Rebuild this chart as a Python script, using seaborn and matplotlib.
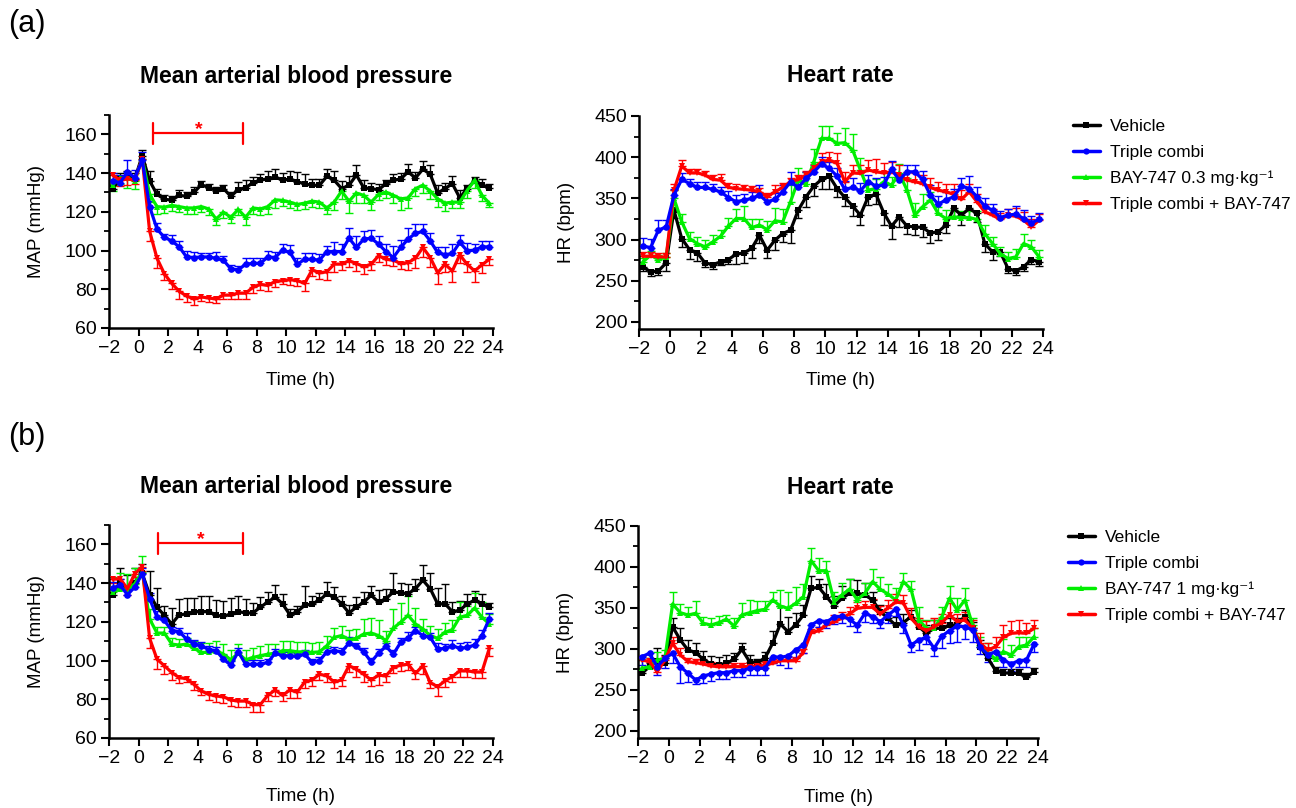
import numpy as np
import pandas as pd
import matplotlib
matplotlib.use("Agg")
import matplotlib.pyplot as plt
import seaborn as sns
from matplotlib.ticker import MultipleLocator, AutoMinorLocator
from matplotlib.lines import Line2D

# ---------------- data ----------------
TIME = [-1.75, -1.25, -0.75, -0.25, 0.25, 0.75, 1.25, 1.75, 2.25, 2.75, 3.25, 3.75, 4.25,
        4.75, 5.25, 5.75, 6.25, 6.75, 7.25, 7.75, 8.25, 8.75, 9.25, 9.75, 10.25, 10.75,
        11.25, 11.75, 12.25, 12.75, 13.25, 13.75, 14.25, 14.75, 15.25, 15.75, 16.25, 16.75,
        17.25, 17.75, 18.25, 18.75, 19.25, 19.75, 20.25, 20.75, 21.25, 21.75, 22.25, 22.75,
        23.25, 23.75]

GROUPS = ["Vehicle", "Triple combi", "BAY-747", "Triple combi + BAY-747"]
LEGEND_A = ["Vehicle", "Triple combi", "BAY-747 0.3 mg·kg⁻¹", "Triple combi + BAY-747"]
LEGEND_B = ["Vehicle", "Triple combi", "BAY-747 1 mg·kg⁻¹", "Triple combi + BAY-747"]

# (a) Mean arterial blood pressure (mmHg)
A_MAP_VEH = [132, 137, 138, 137, 149, 136, 129, 126.5, 126, 128.5, 128, 130, 134, 132.5, 131, 132,
             128, 131.5, 132.5, 135, 136.5, 137, 138, 136.3, 137, 135.5, 134.5, 133.7, 133.7, 138.3,
             136.3, 132, 133.7, 139, 132.4, 132, 131.4, 134.5, 136.3, 137, 140.6, 137.5, 142, 139.4,
             129.7, 132, 134.5, 127.2, 132, 136, 133.7, 132.4]
A_MAP_TRI = [136, 135, 140.6, 137.6, 146.7, 122.7, 111.1, 106.8, 105, 101.9, 96.7, 96.4, 96.7, 96.7,
             96, 95, 90.5, 90, 92.9, 93.4, 93.4, 96.7, 96.4, 100.2, 99, 92.9, 95.5, 95.5, 95, 99.5,
             99.5, 99.5, 106.4, 101.6, 105.9, 106.4, 103.3, 99.5, 96.4, 101.6, 105.9, 108.9, 109.9,
             105, 99, 97.8, 98.5, 104.2, 99.9, 100.2, 101.9, 101.9]
A_MAP_BAY = [134, 137.5, 137.5, 136, 147.5, 129, 122.7, 122.4, 123.3, 122.7, 122, 122, 122.7, 121.5,
             116.3, 119.8, 117.2, 121.2, 117.2, 122, 121.5, 122.7, 126.2, 125.9, 125, 123.8, 124.5,
             125.5, 125, 122, 125, 130.7, 125.5, 129.7, 128.5, 125, 129, 130.2, 128.5, 126.7, 127.2,
             132, 133.7, 130.7, 126.7, 124.5, 125, 125, 131, 136.3, 128.5, 124.5]
A_MAP_TB = [139, 136.3, 137, 136.3, 147.5, 110, 96, 88, 83, 79, 76.5, 75, 76, 75.5, 75, 77, 77, 78,
            78, 81, 82.5, 82, 84, 84.5, 85, 84.5, 83, 90, 88.5, 89, 93, 93, 94.7, 93.3, 91.7, 92.9,
            97.3, 95.5, 95, 93.3, 93.8, 96, 101.6, 96.4, 88.6, 92.9, 89.5, 97.8, 92.9, 89.5, 92.6, 95.5]
A_MAP_VEH_ERR = [2, 3, 3, 3, 3, 5, 3, 2, 2, 3, 2, 3, 2, 2, 2, 2, 2, 4, 4, 3, 3, 4, 4, 4, 4, 5, 5, 3,
                 3, 4, 5, 4, 5, 5, 4, 3, 3, 2, 3, 3, 4, 3, 4, 5, 4, 3, 4, 4, 2, 2, 3, 2]
A_MAP_TRI_ERR = [4, 4, 6, 4, 4, 3, 3, 2, 3, 3, 3, 3, 2, 2, 3, 2, 2, 2, 3, 3, 3, 3, 3, 3, 4, 3, 3, 3,
                 3, 3, 5, 4, 5, 6, 4, 4, 4, 4, 6, 4, 6, 5, 4, 4, 3, 4, 5, 4, 4, 3, 3, 3]
A_MAP_BAY_ERR = [3, 3, 5, 4, 3, 4, 4, 3, 3, 3, 3, 3, 3, 3, 3, 3, 3, 3, 4, 3, 3, 4, 4, 3, 3, 3, 3, 3,
                 3, 3, 4, 4, 6, 5, 4, 4, 3, 3, 4, 6, 5, 4, 4, 4, 4, 4, 3, 3, 4, 4, 3, 2]
A_MAP_TB_ERR = [3, 3, 3, 2, 3, 5, 5, 3, 3, 4, 3, 3, 2, 2, 2, 2, 2, 3, 3, 3, 3, 3, 3, 2, 3, 3, 4, 3,
                3, 4, 4, 3, 3, 4, 4, 3, 3, 3, 3, 3, 4, 5, 5, 5, 6, 4, 6, 4, 4, 6, 4, 3]

# (a) Heart rate (bpm)
A_HR_VEH = [266.9, 260.8, 262, 271.7, 335.7, 301.3, 287.9, 283.9, 271.7, 269.7, 272.9, 275.8, 282.3,
            283.9, 289.2, 305.3, 287.2, 299.4, 307.4, 311.4, 335.7, 351.9, 364.9, 373, 377, 362,
            351.1, 340.6, 329.7, 352, 355, 332.5, 316.3, 327.6, 316.3, 315.5, 314.7, 308.2, 309.4,
            317.5, 337.8, 329.7, 337.8, 331.7, 295.2, 285, 285, 264.8, 262, 266.9, 275.8, 272.9]
A_HR_TRI = [292, 290.4, 311.4, 315.5, 354, 373, 368, 363.3, 363.3, 360.9, 358, 351, 345.9, 347.9, 350,
            354, 345.9, 348.7, 358, 370.2, 363.3, 374.2, 382.3, 391.7, 386.4, 377, 360.9, 363.3,
            359.2, 370.2, 364.9, 366.1, 385.2, 372.2, 382.3, 382.3, 373, 354, 343, 348, 352, 364.9,
            362, 352, 340.6, 335.7, 326.8, 329.7, 330.9, 325.6, 320.3, 324.4]
A_HR_BAY = [273, 281, 275.8, 279, 350, 321.6, 301.3, 295.2, 291.2, 297.2, 304.1, 316.3, 325.6, 325.6,
            314.7, 317.5, 312.2, 322.8, 321.6, 345.9, 372.2, 367.3, 394.5, 422.8, 422.8, 416.8, 417.6,
            408.7, 384.4, 360, 362, 370.2, 366.1, 380.3, 360, 329.7, 339.8, 347.9, 331.7, 325.6,
            327.6, 326.8, 326.8, 324.4, 307.4, 295.2, 283, 277, 279, 295.2, 291.2, 279]
A_HR_TB = [279.8, 279.8, 279, 279, 360, 389.2, 381, 381, 378.3, 373, 372.2, 363.3, 362, 360.9, 360,
           358, 352, 358, 363.3, 370.3, 373, 378.3, 386.4, 394.5, 396.5, 392.5, 370.2, 381, 380.3,
           384.4, 382.3, 381, 382.3, 378.3, 372.2, 370.3, 368, 363.3, 360, 358, 355, 348.7, 358,
           345.9, 333.7, 329.7, 324.4, 329.7, 328.4, 323.6, 315.5, 323.6]
A_HR_VEH_ERR = [5, 5, 5, 10, 10, 10, 12, 10, 5, 5, 4, 5, 12, 12, 12, 10, 10, 12, 10, 15, 10, 12, 12,
                12, 15, 10, 10, 12, 12, 10, 12, 15, 15, 12, 10, 10, 12, 12, 10, 10, 10, 12, 12, 10,
                10, 10, 5, 5, 5, 5, 5, 5]
A_HR_TRI_ERR = [10, 10, 12, 8, 8, 8, 6, 6, 6, 6, 6, 8, 8, 8, 8, 12, 8, 8, 8, 12, 8, 8, 8, 8, 8, 10,
                10, 12, 10, 8, 10, 10, 10, 8, 8, 8, 10, 12, 10, 10, 10, 10, 15, 12, 10, 8, 8, 8, 10,
                10, 8, 8]
A_HR_BAY_ERR = [5, 5, 5, 5, 10, 10, 8, 8, 8, 8, 8, 10, 12, 15, 10, 8, 10, 15, 15, 20, 15, 15, 15, 15,
                15, 12, 18, 20, 15, 10, 12, 12, 10, 12, 15, 15, 15, 10, 8, 10, 8, 8, 8, 10, 10, 8, 8,
                8, 10, 12, 8, 8]
A_HR_TB_ERR = [5, 5, 5, 5, 8, 8, 5, 5, 5, 5, 8, 5, 5, 5, 5, 5, 5, 8, 5, 5, 5, 5, 5, 10, 10, 12, 12,
               10, 10, 12, 15, 12, 12, 12, 10, 10, 10, 12, 10, 10, 12, 12, 10, 10, 10, 8, 8, 8, 10,
               10, 10, 8]

# (b) Mean arterial blood pressure (mmHg)
B_MAP_VEH = [134, 140, 137, 140, 145, 134, 127.6, 123.3, 118.9, 123.6, 124.1, 125.3, 125.3, 125.3,
             123.3, 122.9, 124.1, 125.3, 124.6, 124.6, 127.6, 130.2, 132.8, 129.3, 123.6, 125.3,
             128.5, 129.3, 131.1, 134.5, 132.8, 129.3, 124.6, 127.6, 130.2, 133.7, 130.2, 131.9,
             135.4, 135, 134.5, 137.1, 141.5, 137.1, 129.3, 129.3, 125.3, 125.9, 129.3, 131.1,
             129.3, 127.6]
B_MAP_TRI = [137.5, 138.9, 134, 138, 144.9, 131.9, 122.4, 120.7, 115.5, 114.9, 111.1, 108.5, 107.7,
             105.6, 105.1, 100.7, 97.6, 104.5, 98.1, 98.1, 98.1, 99, 103.8, 102.5, 102.5, 102.1,
             103.3, 99, 99.9, 104.5, 105.1, 104.5, 109, 107.3, 104.5, 99.3, 103.8, 107.3, 103.3,
             109.4, 111.5, 115.5, 112.9, 112, 105.9, 106.3, 107.7, 106.3, 106.8, 108, 112.9, 121.5]
B_MAP_BAY = [135.4, 137.1, 136.8, 139.7, 145.8, 121.5, 114.2, 114.2, 108.5, 108, 108.5, 106.3, 104.2,
             104.2, 105.1, 103.3, 100.4, 103.8, 100.4, 101.6, 102.5, 103.3, 103.8, 105.1, 105.1,
             104.5, 104.5, 104.2, 104.5, 107.7, 112, 112.9, 110.8, 111.5, 113.7, 114.2, 112.9, 110.3,
             116.7, 119.8, 123.3, 118.9, 116.3, 112.9, 111.5, 114.6, 116, 122.4, 123.3, 127.1, 122.4,
             118.9]
B_MAP_TB = [142, 142.3, 137.1, 144.9, 148.4, 111.5, 100.7, 97.3, 93.8, 91.2, 90.7, 87.7, 84.3, 82.5,
            81.7, 81.3, 79.6, 79.1, 79.1, 77.3, 77.3, 82, 84.8, 82, 84.8, 83.7, 88.9, 90, 92.9, 92.1,
            88.9, 90, 97.3, 95.5, 92.9, 90, 92.4, 92.1, 96.4, 97.6, 98.1, 93.4, 97.3, 88.6, 86.5,
            89.5, 91.7, 94.7, 94.7, 94.1, 94.1, 106.3]
B_MAP_VEH_ERR = [3, 8, 7, 8, 5, 12, 10, 5, 8, 8, 8, 7, 8, 8, 8, 8, 8, 8, 7, 5, 5, 5, 6, 5, 3, 3, 10,
                 4, 4, 6, 5, 4, 4, 5, 5, 5, 6, 5, 10, 5, 5, 5, 8, 8, 8, 10, 5, 5, 5, 5, 5, 2]
B_MAP_TRI_ERR = [3, 3, 3, 3, 3, 3, 3, 2, 2, 2, 3, 2, 2, 2, 2, 2, 2, 2, 2, 2, 2, 2, 2, 2, 2, 2, 2, 2,
                 2, 2, 2, 2, 3, 2, 2, 2, 2, 2, 2, 2, 3, 2, 3, 2, 3, 2, 3, 3, 3, 3, 3, 3]
B_MAP_BAY_ERR = [8, 8, 8, 8, 8, 5, 3, 3, 3, 3, 3, 4, 5, 5, 5, 5, 5, 5, 5, 5, 5, 5, 5, 5, 5, 5, 5, 5,
                 5, 5, 5, 5, 5, 5, 8, 8, 8, 5, 10, 10, 10, 8, 5, 5, 5, 5, 5, 8, 5, 8, 8, 5]
B_MAP_TB_ERR = [2, 2, 3, 2, 2, 5, 5, 4, 4, 3, 2, 3, 2, 3, 3, 3, 3, 3, 3, 4, 4, 3, 3, 3, 4, 3, 3, 3,
                3, 3, 3, 3, 3, 4, 4, 3, 5, 3, 3, 3, 3, 3, 4, 3, 5, 3, 3, 3, 3, 3, 3, 4]

# (b) Heart rate (bpm)
B_HR_VEH = [270, 278.2, 285.5, 282.2, 327, 310.7, 298.5, 295.3, 287.1, 281.4, 280.2, 282.2, 287.1,
            299.3, 284.3, 283.1, 288.4, 306.7, 330.3, 320.9, 329, 341.3, 373.9, 375.1, 363.7, 352.3,
            361.6, 367.8, 367.8, 365.7, 359.6, 345.4, 337.2, 329, 332, 339.3, 327, 318.9, 325, 325,
            329, 329, 339.3, 325, 302.6, 288.4, 273.3, 270.8, 270, 270, 265.1, 272.1]
B_HR_TRI = [290.4, 294.5, 278.2, 288.4, 294.5, 278.2, 270, 261.9, 266.8, 269.2, 270.8, 270.8, 273.3,
            273.3, 276.1, 276.1, 276.1, 290.4, 289.6, 291.2, 298.5, 304.6, 329, 334.4, 333.1, 338.4,
            340, 335.9, 329, 343.3, 339.3, 333.1, 341.3, 348.2, 329, 304.6, 310.7, 314, 300.6, 315.6,
            322.1, 327.9, 327, 323, 301.8, 292.4, 296.5, 286.3, 281.4, 285.5, 286.3, 305.9]
B_HR_BAY = [276, 278.2, 286.3, 288.4, 354.7, 344.1, 341.3, 343.3, 331.1, 329, 332, 336, 327.9, 341.3,
            344.1, 346.6, 348.2, 359.6, 352.3, 349.4, 355.5, 363.7, 407.7, 395.4, 395.4, 357.6,
            365.7, 372.9, 360, 367.8, 382, 372.6, 366.9, 359.6, 382, 372.6, 335.5, 325, 325, 339.3,
            361.6, 347.4, 359.6, 329, 304.6, 295.3, 287.1, 296.5, 292.4, 302.6, 304.6, 314.8]
B_HR_TB = [286.3, 284.3, 272.1, 286.3, 306.7, 292.4, 284.3, 283.1, 281.4, 279, 278.2, 278.2, 278.2,
           278.2, 278.2, 279, 280.2, 282.2, 285.5, 285.5, 285.5, 295.3, 319.7, 322.1, 329, 333.1,
           337.2, 342.5, 349.4, 350.6, 350.6, 342.5, 350, 357, 356, 337.3, 327, 322, 327, 332,
           341.3, 333.1, 335.2, 325, 306.7, 298.5, 302.6, 314, 318.9, 319.7, 318.9, 325]
B_HR_VEH_ERR = [5, 5, 15, 10, 10, 15, 12, 12, 10, 10, 10, 10, 8, 8, 8, 5, 8, 15, 22, 18, 15, 12, 15,
                10, 15, 12, 15, 18, 16, 15, 10, 8, 8, 10, 10, 8, 8, 10, 10, 8, 8, 8, 8, 8, 8, 8, 5,
                5, 5, 5, 5, 5]
B_HR_TRI_ERR = [10, 10, 10, 12, 12, 20, 10, 5, 8, 8, 8, 8, 8, 8, 8, 8, 8, 8, 10, 15, 10, 10, 8, 8, 8,
                8, 8, 8, 8, 10, 8, 8, 10, 8, 10, 8, 12, 8, 10, 15, 15, 20, 15, 15, 8, 8, 8, 8, 8, 8,
                8, 10]
B_HR_BAY_ERR = [10, 10, 10, 10, 15, 10, 10, 15, 8, 8, 8, 5, 10, 15, 15, 12, 10, 10, 20, 20, 20, 15,
                15, 15, 12, 12, 15, 12, 8, 12, 15, 15, 12, 15, 10, 10, 15, 10, 10, 12, 15, 15, 15, 8,
                10, 12, 10, 15, 12, 12, 10, 10]
B_HR_TB_ERR = [5, 5, 5, 5, 8, 8, 5, 5, 5, 5, 5, 5, 5, 5, 5, 5, 5, 5, 5, 5, 5, 5, 5, 5, 5, 8, 8, 8, 8,
               8, 10, 10, 10, 10, 10, 12, 10, 12, 10, 10, 15, 10, 10, 10, 12, 8, 12, 15, 15, 15, 12, 10]

# significance brackets (time range, level)
SIG_A = (1.0, 7.1, 160.5)
SIG_B = (1.3, 7.1, 160.5)

# ---------------- style ----------------
COLORS = {"Vehicle": "#000000", "Triple combi": "#0000FF", "BAY-747": "#00EE00",
          "Triple combi + BAY-747": "#FF0000"}
MARKERS = {"Vehicle": "s", "Triple combi": "o", "BAY-747": "^", "Triple combi + BAY-747": "v"}
DRAW_ORDER = ["Vehicle", "BAY-747", "Triple combi + BAY-747", "Triple combi"]

sns.set_theme(style="ticks", rc={
    "axes.edgecolor": "black", "axes.labelcolor": "black", "text.color": "black",
    "xtick.color": "black", "ytick.color": "black", "axes.linewidth": 1.6,
})
plt.rcParams["font.family"] = ["Liberation Sans", "DejaVu Sans"]
plt.rcParams["axes.unicode_minus"] = True

W, H = 1296, 808
fig = plt.figure(figsize=(W / 100, H / 100), dpi=100)


def add_ax(l, t, r, b):
    return fig.add_axes([l / W, 1 - b / H, (r - l) / W, (b - t) / H])


def style_ax(ax, ylim, major, ylabel, ylab_x, xlab_y):
    ax.set_xlim(-2, 24)
    ax.set_ylim(*ylim)
    ax.xaxis.set_major_locator(MultipleLocator(2))
    ax.yaxis.set_major_locator(MultipleLocator(major))
    ax.yaxis.set_minor_locator(AutoMinorLocator(2))
    for s in ("top", "right"):
        ax.spines[s].set_visible(False)
    for s in ("left", "bottom"):
        ax.spines[s].set_linewidth(1.8)
    ax.tick_params(which="major", length=6, width=1.5, pad=2.5, labelsize=14, direction="out")
    ax.tick_params(which="minor", length=3.5, width=1.3, direction="out")
    ax.tick_params(axis="x", which="minor", bottom=False)
    ax.set_ylabel(ylabel, fontsize=13.5)
    ax.set_xlabel("Time (h)", fontsize=13.5)
    ax.yaxis.set_label_coords(ylab_x, 0.5)
    ax.xaxis.set_label_coords(0.5, xlab_y)


def draw(ax, series, errs, dirs):
    for g in DRAW_ORDER:
        vals = np.array(series[g], dtype=float)
        err = np.array(errs[g], dtype=float)
        zero = np.zeros_like(err)
        yerr = [zero, err] if dirs[g] == "up" else [err, zero]
        ax.errorbar(TIME, vals, yerr=yerr, fmt="none", ecolor=COLORS[g], elinewidth=1.0,
                    capsize=2.6, capthick=1.0, zorder=2)
        df = pd.DataFrame({"Time": TIME, "Value": vals})
        sns.lineplot(data=df, x="Time", y="Value", ax=ax, color=COLORS[g], marker=MARKERS[g],
                     markersize=4.8, markeredgewidth=0, linewidth=2.3, errorbar=None, zorder=3,
                     legend=False)


def bracket(ax, sig):
    x0, x1, lev = sig
    ax.plot([x0, x1], [lev, lev], color="#FF0000", lw=1.6, solid_capstyle="butt", clip_on=False)
    for xx in (x0, x1):
        ax.plot([xx, xx], [lev - 5.3, lev + 5.3], color="#FF0000", lw=1.6, clip_on=False)
    ax.text((x0 + x1) / 2, lev - 0.5, "*", color="#FF0000", fontsize=14, fontweight="bold",
            ha="center", va="baseline")


def legend(labels, x, y):
    handles = [Line2D([], [], color=COLORS[g], marker=MARKERS[g], markersize=4.5,
                      markeredgewidth=0, lw=2.5) for g in GROUPS]
    fig.legend(handles, labels, loc="upper left", bbox_to_anchor=(x / W, 1 - y / H),
               frameon=False, fontsize=12.5, handlelength=1.55, handletextpad=0.6,
               labelspacing=0.62, borderaxespad=0, borderpad=0)


# ---------------- panel (a) ----------------
ax1 = add_ax(109, 115, 493, 328)
draw(ax1, {"Vehicle": A_MAP_VEH, "Triple combi": A_MAP_TRI, "BAY-747": A_MAP_BAY,
           "Triple combi + BAY-747": A_MAP_TB},
     {"Vehicle": A_MAP_VEH_ERR, "Triple combi": A_MAP_TRI_ERR, "BAY-747": A_MAP_BAY_ERR,
      "Triple combi + BAY-747": A_MAP_TB_ERR},
     {"Vehicle": "up", "Triple combi": "up", "BAY-747": "down", "Triple combi + BAY-747": "down"})
style_ax(ax1, (60, 170), 20, "MAP (mmHg)", -0.167, -0.205)
bracket(ax1, SIG_A)

ax2 = add_ax(639, 116, 1043, 329)
draw(ax2, {"Vehicle": A_HR_VEH, "Triple combi": A_HR_TRI, "BAY-747": A_HR_BAY,
           "Triple combi + BAY-747": A_HR_TB},
     {"Vehicle": A_HR_VEH_ERR, "Triple combi": A_HR_TRI_ERR, "BAY-747": A_HR_BAY_ERR,
      "Triple combi + BAY-747": A_HR_TB_ERR},
     {"Vehicle": "down", "Triple combi": "up", "BAY-747": "up", "Triple combi + BAY-747": "up"})
style_ax(ax2, (191.5, 450), 50, "HR (bpm)", -0.158, -0.20)

# ---------------- panel (b) ----------------
ax3 = add_ax(109, 525, 493, 738)
draw(ax3, {"Vehicle": B_MAP_VEH, "Triple combi": B_MAP_TRI, "BAY-747": B_MAP_BAY,
           "Triple combi + BAY-747": B_MAP_TB},
     {"Vehicle": B_MAP_VEH_ERR, "Triple combi": B_MAP_TRI_ERR, "BAY-747": B_MAP_BAY_ERR,
      "Triple combi + BAY-747": B_MAP_TB_ERR},
     {"Vehicle": "up", "Triple combi": "up", "BAY-747": "up", "Triple combi + BAY-747": "down"})
style_ax(ax3, (60, 170), 20, "MAP (mmHg)", -0.167, -0.235)
bracket(ax3, SIG_B)

ax4 = add_ax(638, 526, 1038, 738)
draw(ax4, {"Vehicle": B_HR_VEH, "Triple combi": B_HR_TRI, "BAY-747": B_HR_BAY,
           "Triple combi + BAY-747": B_HR_TB},
     {"Vehicle": B_HR_VEH_ERR, "Triple combi": B_HR_TRI_ERR, "BAY-747": B_HR_BAY_ERR,
      "Triple combi + BAY-747": B_HR_TB_ERR},
     {"Vehicle": "up", "Triple combi": "down", "BAY-747": "up", "Triple combi + BAY-747": "up"})
style_ax(ax4, (191, 450), 50, "HR (bpm)", -0.16, -0.24)

# ---------------- titles / labels / legends ----------------
for yy in (76, 487):
    fig.text(296 / W, 1 - yy / H, "Mean arterial blood pressure", fontsize=16.5,
             fontweight="bold", ha="center", va="center")
    fig.text(840 / W, 1 - yy / H, "Heart rate", fontsize=16.5, fontweight="bold",
             ha="center", va="center")
fig.text(8 / W, 1 - 24 / H, "(a)", fontsize=22, ha="left", va="center")
fig.text(8 / W, 1 - 437 / H, "(b)", fontsize=22, ha="left", va="center")

legend(LEGEND_A, 1073, 119)
legend(LEGEND_B, 1068, 530)

fig.savefig("out.png", dpi=100)
